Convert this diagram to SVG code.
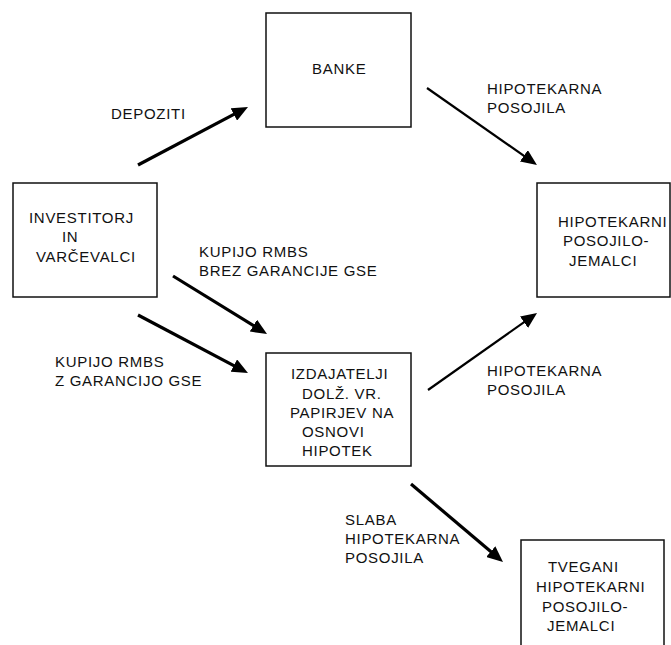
<svg xmlns="http://www.w3.org/2000/svg" width="671" height="645" viewBox="0 0 671 645">
<style>
.box{fill:#fff;stroke:#111;stroke-width:1.5}
text{font-family:"Liberation Sans",Arial,sans-serif;font-size:15px;fill:#111;letter-spacing:0.7px}
.c{stroke:#000;fill:none}
.thick{stroke-width:3.2}
.thin{stroke-width:2.2}
</style>
<defs>
<marker id="ah" markerUnits="userSpaceOnUse" markerWidth="18" markerHeight="14" refX="8" refY="7" orient="auto">
<path d="M0,0 L16,7 L0,14 Z" fill="#000"/>
</marker>
</defs>
<rect width="671" height="645" fill="#fff"/>
<g id="banke">
<rect class="box" x="266" y="13" width="145" height="114"/>
<text x="312" y="74">BANKE</text>
</g>
<g id="investitorji">
<rect class="box" x="13" y="183" width="144" height="114"/>
<text x="29" y="223">INVESTITORJ</text>
<text x="62" y="242">IN</text>
<text x="36" y="261.5">VARČEVALCI</text>
</g>
<g id="hipotekarni">
<rect class="box" x="537" y="183" width="133" height="114"/>
<text x="558" y="226.5">HIPOTEKARNI</text>
<text x="563" y="245.5">POSOJILO-</text>
<text x="569" y="265.5">JEMALCI</text>
</g>
<g id="izdajatelji">
<rect class="box" x="266" y="353" width="145" height="113"/>
<text x="291" y="379">IZDAJATELJI</text>
<text x="302" y="399">DOLŽ. VR.</text>
<text x="290" y="418">PAPIRJEV NA</text>
<text x="302" y="437">OSNOVI</text>
<text x="302" y="455.5">HIPOTEK</text>
</g>
<g id="tvegani">
<rect class="box" x="521" y="540" width="143" height="120"/>
<text x="548" y="572">TVEGANI</text>
<text x="536" y="592">HIPOTEKARNI</text>
<text x="542" y="611.5">POSOJILO-</text>
<text x="547" y="630.5">JEMALCI</text>
</g>
<g id="connectors">
<line class="c thick" x1="138" y1="165" x2="240.9" y2="110.7" marker-end="url(#ah)"/>
<line class="c thin" x1="427" y1="88" x2="530.4" y2="160.4" marker-end="url(#ah)"/>
<line class="c thick" x1="173" y1="276" x2="260.2" y2="329.8" marker-end="url(#ah)"/>
<line class="c thick" x1="138" y1="315" x2="240.9" y2="369.3" marker-end="url(#ah)"/>
<line class="c thin" x1="428" y1="390" x2="530.5" y2="317.6" marker-end="url(#ah)"/>
<line class="c thick" x1="411" y1="484" x2="496.9" y2="556.8" marker-end="url(#ah)"/>
</g>
<g id="labels">
<text x="111" y="118.5">DEPOZITI</text>
<text x="487" y="93.5">HIPOTEKARNA</text>
<text x="487" y="112.5">POSOJILA</text>
<text x="199" y="257">KUPIJO RMBS</text>
<text x="199" y="275.5">BREZ GARANCIJE GSE</text>
<text x="55" y="367">KUPIJO RMBS</text>
<text x="55" y="386">Z GARANCIJO GSE</text>
<text x="487" y="375.5">HIPOTEKARNA</text>
<text x="487" y="394.5">POSOJILA</text>
<text x="345" y="524.5">SLABA</text>
<text x="345" y="543.5">HIPOTEKARNA</text>
<text x="345" y="563">POSOJILA</text>
</g>
</svg>
